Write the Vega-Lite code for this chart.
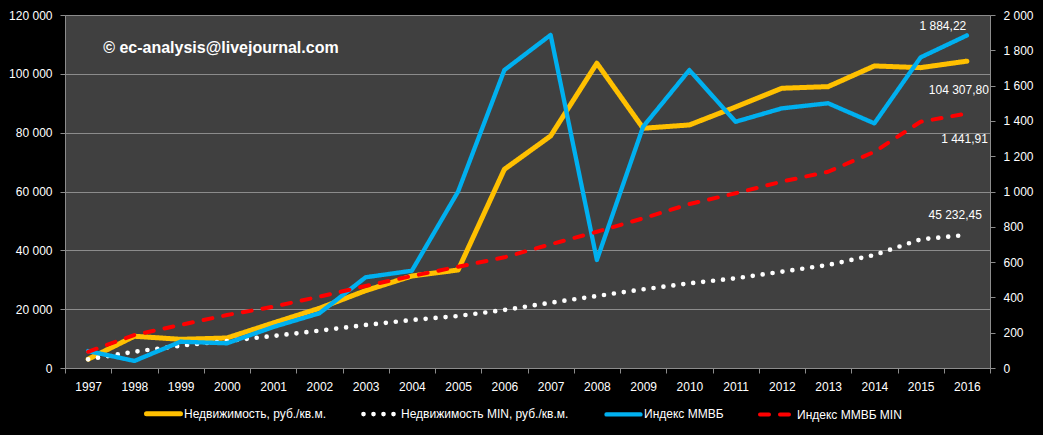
{
  "$schema": "https://vega.github.io/schema/vega-lite/v6.json",
  "width": 925,
  "height": 353,
  "autosize": "none",
  "padding": {"left": 65, "top": 15, "right": 53, "bottom": 67},
  "background": "#000000",
  "config": {
    "locale": {"number": {"decimal": ",", "thousands": " ", "grouping": [3], "currency": ["", ""]}},
    "view": {"fill": "#404040", "stroke": null},
    "font": "Liberation Sans",
    "axis": {"labelColor": "#ffffff", "labelFontSize": 12, "labelFont": "Liberation Sans", "domainColor": "#8c8c8c", "tickColor": "#8c8c8c", "gridColor": "#8c8c8c", "gridOpacity": 1, "title": null, "tickSize": 5, "labelPadding": 7},
    "legend": {"direction": "horizontal", "symbolType": "stroke", "symbolSize": 1156, "symbolStrokeWidth": 5, "labelColor": "#ffffff", "labelFontSize": 12, "labelFont": "Liberation Sans", "labelOffset": 1, "columnPadding": 28, "labelLimit": 400, "title": null}
  },
  "datasets": {
    "d": [
      {"year": "1997", "s": "Недвижимость, руб./кв.м.", "v": 3000},
      {"year": "1998", "s": "Недвижимость, руб./кв.м.", "v": 10800},
      {"year": "1999", "s": "Недвижимость, руб./кв.м.", "v": 9750},
      {"year": "2000", "s": "Недвижимость, руб./кв.м.", "v": 10200},
      {"year": "2001", "s": "Недвижимость, руб./кв.м.", "v": 15300},
      {"year": "2002", "s": "Недвижимость, руб./кв.м.", "v": 20300},
      {"year": "2003", "s": "Недвижимость, руб./кв.м.", "v": 26300},
      {"year": "2004", "s": "Недвижимость, руб./кв.м.", "v": 31280},
      {"year": "2005", "s": "Недвижимость, руб./кв.м.", "v": 33320},
      {"year": "2006", "s": "Недвижимость, руб./кв.м.", "v": 67540},
      {"year": "2007", "s": "Недвижимость, руб./кв.м.", "v": 78880},
      {"year": "2008", "s": "Недвижимость, руб./кв.м.", "v": 103600},
      {"year": "2009", "s": "Недвижимость, руб./кв.м.", "v": 81500},
      {"year": "2010", "s": "Недвижимость, руб./кв.м.", "v": 82620},
      {"year": "2011", "s": "Недвижимость, руб./кв.м.", "v": 88740},
      {"year": "2012", "s": "Недвижимость, руб./кв.м.", "v": 95100},
      {"year": "2013", "s": "Недвижимость, руб./кв.м.", "v": 95650},
      {"year": "2014", "s": "Недвижимость, руб./кв.м.", "v": 102680},
      {"year": "2015", "s": "Недвижимость, руб./кв.м.", "v": 102100},
      {"year": "2016", "s": "Недвижимость, руб./кв.м.", "v": 104307.8},
      {"year": "1997", "s": "Недвижимость MIN, руб./кв.м.", "v": 2950},
      {"year": "1998", "s": "Недвижимость MIN, руб./кв.м.", "v": 5540},
      {"year": "1999", "s": "Недвижимость MIN, руб./кв.м.", "v": 7590},
      {"year": "2000", "s": "Недвижимость MIN, руб./кв.м.", "v": 9180},
      {"year": "2001", "s": "Недвижимость MIN, руб./кв.м.", "v": 10880},
      {"year": "2002", "s": "Недвижимость MIN, руб./кв.м.", "v": 12700},
      {"year": "2003", "s": "Недвижимость MIN, руб./кв.м.", "v": 14620},
      {"year": "2004", "s": "Недвижимость MIN, руб./кв.м.", "v": 16320},
      {"year": "2005", "s": "Недвижимость MIN, руб./кв.м.", "v": 17680},
      {"year": "2006", "s": "Недвижимость MIN, руб./кв.м.", "v": 19720},
      {"year": "2007", "s": "Недвижимость MIN, руб./кв.м.", "v": 22200},
      {"year": "2008", "s": "Недвижимость MIN, руб./кв.м.", "v": 24480},
      {"year": "2009", "s": "Недвижимость MIN, руб./кв.м.", "v": 26750},
      {"year": "2010", "s": "Недвижимость MIN, руб./кв.м.", "v": 28790},
      {"year": "2011", "s": "Недвижимость MIN, руб./кв.м.", "v": 30490},
      {"year": "2012", "s": "Недвижимость MIN, руб./кв.м.", "v": 32750},
      {"year": "2013", "s": "Недвижимость MIN, руб./кв.м.", "v": 35020},
      {"year": "2014", "s": "Недвижимость MIN, руб./кв.м.", "v": 38420},
      {"year": "2015", "s": "Недвижимость MIN, руб./кв.м.", "v": 43750},
      {"year": "2016", "s": "Недвижимость MIN, руб./кв.м.", "v": 45232.45},
      {"year": "1997", "s": "Индекс ММВБ", "v": 96},
      {"year": "1998", "s": "Индекс ММВБ", "v": 40},
      {"year": "1999", "s": "Индекс ММВБ", "v": 149},
      {"year": "2000", "s": "Индекс ММВБ", "v": 140},
      {"year": "2001", "s": "Индекс ММВБ", "v": 232},
      {"year": "2002", "s": "Индекс ММВБ", "v": 310},
      {"year": "2003", "s": "Индекс ММВБ", "v": 514},
      {"year": "2004", "s": "Индекс ММВБ", "v": 551},
      {"year": "2005", "s": "Индекс ММВБ", "v": 1000},
      {"year": "2006", "s": "Индекс ММВБ", "v": 1688},
      {"year": "2007", "s": "Индекс ММВБ", "v": 1887},
      {"year": "2008", "s": "Индекс ММВБ", "v": 612},
      {"year": "2009", "s": "Индекс ММВБ", "v": 1367},
      {"year": "2010", "s": "Индекс ММВБ", "v": 1688},
      {"year": "2011", "s": "Индекс ММВБ", "v": 1395},
      {"year": "2012", "s": "Индекс ММВБ", "v": 1471},
      {"year": "2013", "s": "Индекс ММВБ", "v": 1500},
      {"year": "2014", "s": "Индекс ММВБ", "v": 1386},
      {"year": "2015", "s": "Индекс ММВБ", "v": 1760},
      {"year": "2016", "s": "Индекс ММВБ", "v": 1884.22},
      {"year": "1997", "s": "Индекс ММВБ MIN", "v": 92},
      {"year": "1998", "s": "Индекс ММВБ MIN", "v": 187},
      {"year": "1999", "s": "Индекс ММВБ MIN", "v": 244},
      {"year": "2000", "s": "Индекс ММВБ MIN", "v": 300},
      {"year": "2001", "s": "Индекс ММВБ MIN", "v": 347},
      {"year": "2002", "s": "Индекс ММВБ MIN", "v": 404},
      {"year": "2003", "s": "Индекс ММВБ MIN", "v": 465},
      {"year": "2004", "s": "Индекс ММВБ MIN", "v": 521},
      {"year": "2005", "s": "Индекс ММВБ MIN", "v": 574},
      {"year": "2006", "s": "Индекс ММВБ MIN", "v": 627},
      {"year": "2007", "s": "Индекс ММВБ MIN", "v": 701},
      {"year": "2008", "s": "Индекс ММВБ MIN", "v": 772},
      {"year": "2009", "s": "Индекс ММВБ MIN", "v": 848},
      {"year": "2010", "s": "Индекс ММВБ MIN", "v": 929},
      {"year": "2011", "s": "Индекс ММВБ MIN", "v": 990},
      {"year": "2012", "s": "Индекс ММВБ MIN", "v": 1056},
      {"year": "2013", "s": "Индекс ММВБ MIN", "v": 1112},
      {"year": "2014", "s": "Индекс ММВБ MIN", "v": 1225},
      {"year": "2015", "s": "Индекс ММВБ MIN", "v": 1395},
      {"year": "2016", "s": "Индекс ММВБ MIN", "v": 1441.91}
    ]
  },
  "data": {"name": "d"},
  "encoding": {
    "x": {"field": "year", "type": "ordinal", "bandPosition": 0.5,
      "scale": {"type": "band", "paddingInner": 0, "paddingOuter": 0},
      "axis": {"tickBand": "extent", "labelAngle": 0, "grid": false, "labelPadding": 8}}
  },
  "layer": [
    {
      "encoding": {
        "y": {"field": "v", "type": "quantitative",
          "scale": {"domain": [0, 120000], "nice": false},
          "axis": {"values": [0, 20000, 40000, 60000, 80000, 100000, 120000], "format": ",d", "grid": true, "orient": "left", "labelPadding": 8}}
      },
      "layer": [
        {
          "transform": [{"filter": {"field": "s", "oneOf": ["Недвижимость, руб./кв.м.", "Недвижимость MIN, руб./кв.м."]}}],
          "mark": {"type": "line", "strokeCap": "round", "strokeJoin": "round"},
          "encoding": {
            "color": {"field": "s", "type": "nominal",
              "scale": {"domain": ["Недвижимость, руб./кв.м.", "Недвижимость MIN, руб./кв.м.", "Индекс ММВБ", "Индекс ММВБ MIN"], "range": ["#FFC000", "#FFFFFF", "#00B0F0", "#FF0000"]},
              "legend": {"orient": "none", "legendX": 79, "legendY": 379, "encode": {"symbols": {"update": {"strokeCap": {"value": "round"}}}}}},
            "strokeDash": {"field": "s", "type": "nominal",
              "scale": {"domain": ["Недвижимость, руб./кв.м.", "Недвижимость MIN, руб./кв.м.", "Индекс ММВБ", "Индекс ММВБ MIN"], "range": [[1, 0], [0, 10], [1, 0], [9, 11]]},
              "legend": {"orient": "none", "legendX": 79, "legendY": 379, "encode": {"symbols": {"update": {"strokeCap": {"value": "round"}}}}}},
            "strokeWidth": {"field": "s", "type": "nominal", "legend": null,
              "scale": {"domain": ["Недвижимость, руб./кв.м.", "Недвижимость MIN, руб./кв.м.", "Индекс ММВБ", "Индекс ММВБ MIN"], "range": [5, 4, 5, 4.5]}}
          }
        },
        {
          "transform": [{"filter": "datum.year == '2016' && datum.s == 'Недвижимость, руб./кв.м.'"}],
          "mark": {"type": "text", "align": "right", "baseline": "middle", "dx": 22, "dy": 29, "fontSize": 12, "color": "#ffffff"},
          "encoding": {"text": {"field": "v", "type": "quantitative", "format": ",.2f"}}
        },
        {
          "transform": [{"filter": "datum.year == '2016' && datum.s == 'Недвижимость MIN, руб./кв.м.'"}],
          "mark": {"type": "text", "align": "right", "baseline": "middle", "dx": 15, "dy": -20, "fontSize": 12, "color": "#ffffff"},
          "encoding": {"text": {"field": "v", "type": "quantitative", "format": ",.2f"}}
        },
        {
          "data": {"values": [{"year": "2000", "v": 108800, "t": "© ec-analysis@livejournal.com"}]},
          "mark": {"type": "text", "align": "center", "baseline": "middle", "dx": -6, "fontSize": 16, "fontWeight": "bold", "color": "#ffffff"},
          "encoding": {"text": {"field": "t", "type": "nominal"}}
        }
      ]
    },
    {
      "encoding": {
        "y": {"field": "v", "type": "quantitative",
          "scale": {"domain": [0, 2000], "nice": false},
          "axis": {"values": [0, 200, 400, 600, 800, 1000, 1200, 1400, 1600, 1800, 2000], "format": ",d", "grid": false, "orient": "right", "labelPadding": 8}}
      },
      "layer": [
        {
          "transform": [{"filter": {"field": "s", "oneOf": ["Индекс ММВБ", "Индекс ММВБ MIN"]}}],
          "mark": {"type": "line", "strokeCap": "round", "strokeJoin": "round"},
          "encoding": {
            "color": {"field": "s", "type": "nominal",
              "scale": {"domain": ["Недвижимость, руб./кв.м.", "Недвижимость MIN, руб./кв.м.", "Индекс ММВБ", "Индекс ММВБ MIN"], "range": ["#FFC000", "#FFFFFF", "#00B0F0", "#FF0000"]},
              "legend": {"orient": "none", "legendX": 79, "legendY": 379, "encode": {"symbols": {"update": {"strokeCap": {"value": "round"}}}}}},
            "strokeDash": {"field": "s", "type": "nominal",
              "scale": {"domain": ["Недвижимость, руб./кв.м.", "Недвижимость MIN, руб./кв.м.", "Индекс ММВБ", "Индекс ММВБ MIN"], "range": [[1, 0], [0, 10], [1, 0], [9, 11]]},
              "legend": {"orient": "none", "legendX": 79, "legendY": 379, "encode": {"symbols": {"update": {"strokeCap": {"value": "round"}}}}}},
            "strokeWidth": {"field": "s", "type": "nominal", "legend": null,
              "scale": {"domain": ["Недвижимость, руб./кв.м.", "Недвижимость MIN, руб./кв.м.", "Индекс ММВБ", "Индекс ММВБ MIN"], "range": [5, 4, 5, 4.5]}}
          }
        },
        {
          "transform": [{"filter": "datum.year == '2016' && datum.s == 'Индекс ММВБ'"}],
          "mark": {"type": "text", "align": "center", "baseline": "middle", "dx": -24, "dy": -9, "fontSize": 12, "color": "#ffffff"},
          "encoding": {"text": {"field": "v", "type": "quantitative", "format": ",.2f"}}
        },
        {
          "transform": [{"filter": "datum.year == '2016' && datum.s == 'Индекс ММВБ MIN'"}],
          "mark": {"type": "text", "align": "right", "baseline": "middle", "dx": 21, "dy": 25, "fontSize": 12, "color": "#ffffff"},
          "encoding": {"text": {"field": "v", "type": "quantitative", "format": ",.2f"}}
        }
      ]
    }
  ],
  "resolve": {"scale": {"y": "independent"}}
}
